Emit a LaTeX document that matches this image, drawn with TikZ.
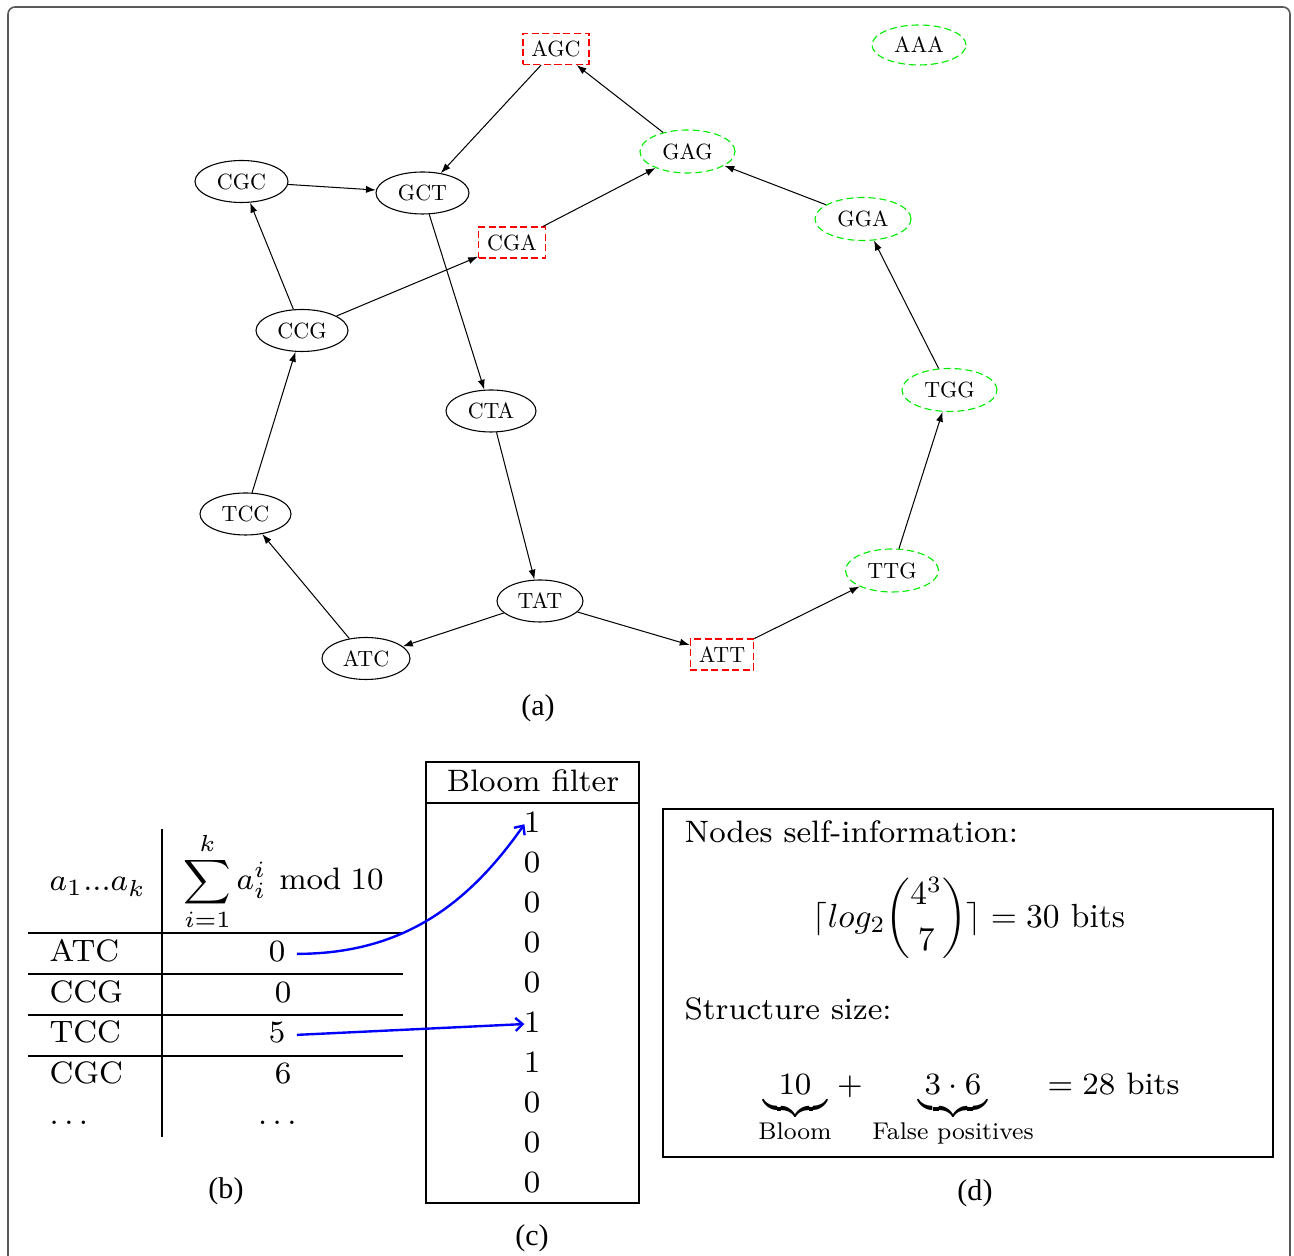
\RequirePackage{fix-cm}
\documentclass[tikz,border=0pt]{standalone}
\usepackage{amsmath}
\usepackage{graphicx}
\usepackage{fontspec}
\newfontfamily\capfont{Liberation Serif}
\usetikzlibrary{shapes.geometric,arrows.meta}
\definecolor{kgreen}{RGB}{0,235,0}
\definecolor{kred}{RGB}{255,0,0}
\def\u{0.32258pt}
% graph labels: 10pt design, scaled down
\newcommand\gtxt[1]{\scalebox{0.71}{\fontsize{10}{12}\selectfont #1}}
% main texts: 8pt design, scaled up to 10pt
\newcommand\btxt[1]{\scalebox{1.25}{\fontsize{8}{9.6}\selectfont #1}}
\begin{document}
\begin{tikzpicture}[x=0.32258pt,y=-0.32258pt,
  every node/.style={inner sep=0pt},
  bnode/.style={ellipse, draw, line width=0.35pt, minimum width=93*\u, minimum height=42*\u},
  gnode/.style={ellipse, draw=kgreen, dash pattern=on 2.26pt off 1.29pt, line width=0.36pt, minimum width=95*\u, minimum height=43*\u},
  rnode/.style={rectangle, draw=kred, dash pattern=on 2.26pt off 1.13pt, line width=0.36pt, inner xsep=8.5*\u, minimum height=31*\u},
  garrow/.style={-{Latex[length=3.2pt,width=2.3pt]}, line width=0.33pt},
  labtext/.style={font=\fontsize{7.8}{9.4}\selectfont},
  capt/.style={font=\capfont\fontsize{9.7}{11.6}\selectfont},
  barrow/.style={draw=blue, line width=0.77pt, -{Straight Barb[length=2.3pt,width=4.2pt]}},
  tline/.style={line width=0.4pt}]
\useasboundingbox (0,0) rectangle (1294,1256);
% outer frame
\draw[black!65, line width=0.52pt, rounded corners=2.3pt] (8,7) rectangle (1290,1266);

% ---------- (a) graph ----------
\node[rnode] (AGC) at (556,49) {\gtxt{AGC}};
\node[gnode, minimum width=94*\u, minimum height=40*\u] (AAA) at (919,45) {\gtxt{AAA}};
\node[gnode] (GAG) at (687.5,151.5) {\gtxt{GAG}};
\node[bnode] (CGC) at (241.5,181.5) {\gtxt{CGC}};
\node[bnode] (GCT) at (422.5,193) {\gtxt{GCT}};
\node[rnode] (CGA) at (512,242.5) {\gtxt{CGA}};
\node[gnode, minimum width=96*\u] (GGA) at (863,219) {\gtxt{GGA}};
\node[bnode, minimum width=92*\u] (CCG) at (302,330.5) {\gtxt{CCG}};
\node[gnode] (TGG) at (949.5,390) {\gtxt{TGG}};
\node[bnode, minimum width=90*\u] (CTA) at (491,411) {\gtxt{CTA}};
\node[bnode, minimum width=91*\u] (TCC) at (245.5,514) {\gtxt{TCC}};
\node[gnode, minimum width=93*\u] (TTG) at (892,570.5) {\gtxt{TTG}};
\node[bnode, minimum width=86*\u] (TAT) at (540,601) {\gtxt{TAT}};
\node[bnode, minimum width=88*\u] (ATC) at (366,658.5) {\gtxt{ATC}};
\node[rnode] (ATT) at (722,654.5) {\gtxt{ATT}};

\draw[garrow] (AGC) -- (GCT);
\draw[garrow] (GAG) -- (AGC);
\draw[garrow] (CGC) -- (GCT);
\draw[garrow] (CGA) -- (GAG);
\draw[garrow] (GGA) -- (GAG);
\draw[garrow] (CCG) -- (CGC);
\draw[garrow] (CCG) -- (CGA);
\draw[garrow] (GCT) -- (CTA);
\draw[garrow] (TGG) -- (GGA);
\draw[garrow] (TCC) -- (CCG);
\draw[garrow] (CTA) -- (TAT);
\draw[garrow] (TTG) -- (TGG);
\draw[garrow] (ATC) -- (TCC);
\draw[garrow] (TAT) -- (ATC);
\draw[garrow] (TAT) -- (ATT);
\draw[garrow] (ATT) -- (TTG);

\node[capt] (ca) at (538,708) {(a)};

% ---------- (b) table ----------
\node[anchor=base west] (hA) at (49,891) {\btxt{$a_1...a_k$}};
\node[anchor=base west] (hS) at (183,890) {\btxt{$\displaystyle\sum_{i=1}^{k} a_i^i \mkern7mu\mathrm{mod}\mkern5mu 10$}};
\draw[tline] (28,933) -- (403,933);
\draw[tline] (28,974) -- (403,974);
\draw[tline] (28,1015) -- (403,1015);
\draw[tline] (28,1056) -- (403,1056);
\draw[tline] (162,829) -- (162,1137);

\node[anchor=base west] (rATC) at (49,962) {\btxt{ATC}};
\node[anchor=base west] (rCCG) at (49,1003) {\btxt{CCG}};
\node[anchor=base west] (rTCC) at (49,1043) {\btxt{TCC}};
\node[anchor=base west] (rCGC) at (49,1084) {\btxt{CGC}};
\node[anchor=base west] (rDots) at (49,1125) {\btxt{$\dots$}};
\node[anchor=base] (vATC) at (277,962) {\btxt{0}};
\node[anchor=base] (vCCG) at (283,1003) {\btxt{0}};
\node[anchor=base] (vTCC) at (277,1043) {\btxt{5}};
\node[anchor=base] (vCGC) at (283,1084) {\btxt{6}};
\node[anchor=base] (vDots) at (280,1125) {\btxt{$\dots$}};

\node[capt] (cb) at (226,1191) {(b)};

% ---------- (c) bloom filter ----------
\draw[tline] (426,762) rectangle (639,1203);
\draw[tline] (426,803) -- (639,803);
\node[anchor=base] (bfh) at (533,792) {\btxt{Bloom filter}};
\foreach \v [count=\i] in {1,0,0,0,0,1,1,0,0,0}
  \node[anchor=base] (b\i) at (532,{833+(\i-1)*39.9}) {\btxt{\v}};

\draw[barrow] ([xshift=11*\u,yshift=-0.6pt]vATC.east) to[out=0,in=235] ([xshift=0.4pt,yshift=-0.5pt]b1.west);
\draw[barrow] ([xshift=11*\u,yshift=-0.6pt]vTCC.east) -- ([xshift=0.4pt,yshift=-0.6pt]b6.west);

\node[capt] (cc) at (532,1238) {(c)};

% ---------- (d) box ----------
\draw[tline] (663,809) rectangle (1273,1157);
\node[anchor=base west] (ni) at (684,843) {\btxt{Nodes self-information:}};
\node (f1) at (969,918) {\scalebox{1.08}{\fontsize{10}{12}\selectfont $\lceil log_2 \dbinom{4^3}{7} \rceil = 30\text{ bits}$}};
\node[anchor=base west] (ss) at (684,1020) {\btxt{Structure size:}};
\node[anchor=base] (t10) at (795,1095) {\btxt{$\underbrace{\hspace{4pt}10\hspace{4pt}}$}};
\node[anchor=base] (tplus) at (850,1095) {\btxt{$+$}};
\node[anchor=base] (t36) at (953,1095) {\btxt{$\underbrace{\hspace{1.5pt}3\cdot 6\hspace{1.5pt}}$}};
\node[anchor=base west] (teq) at (1047,1095) {\btxt{$=28$ bits}};
\node[labtext, anchor=base] (lBloom) at (795,1140) {Bloom};
\node[labtext, anchor=base] (lFP) at (953,1140) {False positives};

\node[capt] (cd) at (975,1193) {(d)};
\end{tikzpicture}
\end{document}
